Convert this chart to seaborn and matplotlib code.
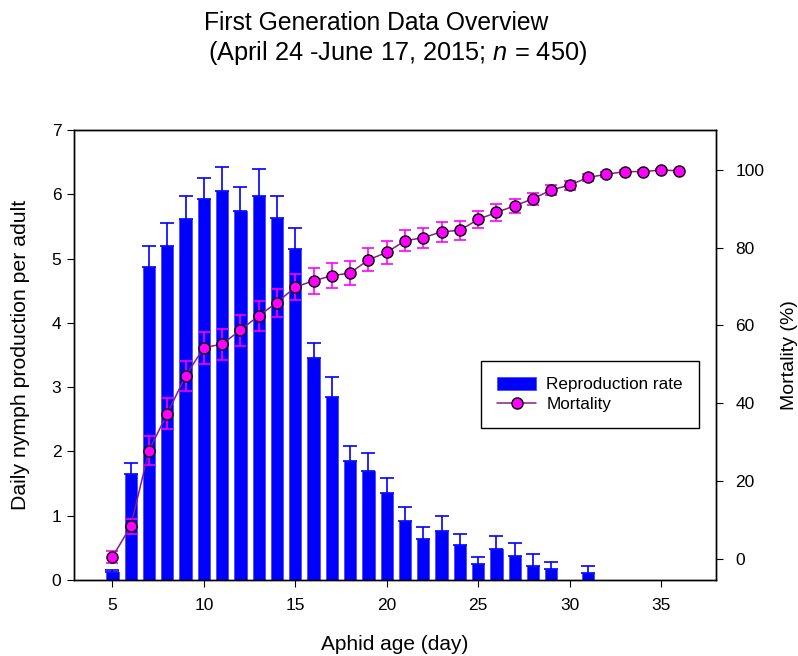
import matplotlib
matplotlib.use("Agg")
import matplotlib.pyplot as plt
import seaborn as sns
import pandas as pd
import numpy as np
from matplotlib.patches import Patch
from matplotlib.lines import Line2D

# ---------------- data ----------------
days = list(range(5, 37))
repro = [0.12, 1.65, 4.87, 5.19, 5.61, 5.93, 6.05, 5.74, 5.98, 5.63, 5.15,
         3.46, 2.85, 1.85, 1.70, 1.36, 0.92, 0.64, 0.76, 0.54, 0.25, 0.48,
         0.37, 0.22, 0.17, 0.0, 0.11, 0.0, 0.0, 0.0, 0.0, 0.0]
repro_se = [0.04, 0.17, 0.32, 0.37, 0.37, 0.33, 0.38, 0.38, 0.42, 0.35, 0.32,
            0.23, 0.31, 0.24, 0.27, 0.23, 0.21, 0.19, 0.24, 0.17, 0.10, 0.21,
            0.20, 0.19, 0.11, 0.0, 0.11, 0.0, 0.0, 0.0, 0.0, 0.0]
mortality = [0.4, 8.3, 27.8, 37.3, 47.0, 54.3, 55.2, 58.8, 62.5, 65.9, 69.9,
             71.5, 72.8, 73.5, 76.9, 78.8, 81.8, 82.6, 84.1, 84.5, 87.3, 89.1,
             90.8, 92.6, 94.9, 96.1, 98.1, 98.9, 99.6, 99.6, 100.0, 99.8]
mortality_se = [1.6, 1.9, 3.8, 4.0, 3.9, 4.1, 4.0, 4.0, 3.8, 3.6, 3.4,
                3.3, 3.2, 3.1, 3.0, 3.0, 2.7, 2.6, 2.6, 2.5, 2.2, 2.1,
                1.8, 1.6, 1.2, 1.2, 0.8, 0.6, 0.5, 0.4, 0.3, 0.3]
x_ticks = [5, 10, 15, 20, 25, 30, 35]
left_ticks = [0, 1, 2, 3, 4, 5, 6, 7]
right_ticks = [0, 20, 40, 60, 80, 100]

df = pd.DataFrame({"day": days, "repro": repro, "repro_se": repro_se,
                   "mort": mortality, "mort_se": mortality_se})

# ---------------- style ----------------
sns.set_theme(style="white")
plt.rcParams["font.family"] = ["Liberation Sans", "DejaVu Sans"]
plt.rcParams["mathtext.fontset"] = "custom"
plt.rcParams["mathtext.rm"] = "Liberation Sans"
plt.rcParams["mathtext.it"] = "Liberation Sans:italic"
for k in ["text.color", "axes.labelcolor", "xtick.color", "ytick.color",
          "axes.edgecolor"]:
    plt.rcParams[k] = "black"

BLUE = "#0000ff"
MAG = "#ff00ff"
PURPLE = "#8b1a8b"

fig = plt.figure(figsize=(7.98, 6.56), dpi=100)
ax = fig.add_axes([0.0927, 0.1159, 0.8045, 0.6859])

# bars
sns.barplot(data=df, x="day", y="repro", native_scale=True, width=0.67,
            color=BLUE, saturation=1, errorbar=None, ax=ax,
            edgecolor="#4a4aff", linewidth=0.6, zorder=2)
pos = df[df["repro"] > 0]
ax.errorbar(pos["day"], pos["repro"],
            yerr=[np.zeros(len(pos)), pos["repro_se"]],
            fmt="none", ecolor=BLUE, elinewidth=1.2, capsize=5, capthick=1.2,
            zorder=3)

ax.set_xlim(2.9, 38.0)
ax.set_ylim(0, 7)
ax.set_xticks(x_ticks)
ax.set_yticks(left_ticks)
ax.set_xlabel("Aphid age (day)", fontsize=15, labelpad=16)
ax.set_ylabel("Daily nymph production per adult", fontsize=15.3)
ax.yaxis.set_label_coords(-0.068, 0.5)
ax.tick_params(axis="both", which="both", direction="out", length=5,
               width=0.8, color="black", labelsize=12.5, labelcolor="black")
ax.tick_params(axis="x", pad=8, bottom=True)
ax.tick_params(axis="y", pad=4, left=True)
for s in ax.spines.values():
    s.set_color("black")
    s.set_linewidth(1.0)

# mortality on twin axis
ax2 = ax.twinx()
ax2.errorbar(df["day"], df["mort"], yerr=df["mort_se"], fmt="none",
             ecolor=MAG, elinewidth=1.2, capsize=4.5, capthick=1.2, zorder=2)
sns.lineplot(data=df, x="day", y="mort", ax=ax2, color=PURPLE, linewidth=1.1,
             marker="o", markersize=8, markerfacecolor=MAG,
             markeredgecolor="black", markeredgewidth=1.0, zorder=3)
ax2.set_ylim(-5.5, 110.3)
ax2.set_yticks(right_ticks)
ax2.set_ylabel("Mortality (%)", fontsize=14, labelpad=12)
ax2.tick_params(axis="y", direction="out", length=5, width=0.8,
                color="black", labelsize=12.5, labelcolor="black", pad=9,
                right=True)
for s in ax2.spines.values():
    s.set_color("black")
    s.set_linewidth(1.0)

handles = [Patch(facecolor=BLUE, edgecolor="#4a4aff", linewidth=0.6),
           Line2D([0], [0], color=PURPLE, linewidth=1.1, marker="o",
                  markersize=8, markerfacecolor=MAG, markeredgecolor="black")]
leg = ax2.legend(handles, ["Reproduction rate", "Mortality"],
                 loc="upper right", bbox_to_anchor=(0.974, 0.487),
                 fontsize=12.3, frameon=True, fancybox=False, framealpha=1,
                 edgecolor="black", borderpad=0.95, labelspacing=0.25,
                 handlelength=2.3, handleheight=0.75, handletextpad=0.6,
                 borderaxespad=0)
leg.get_frame().set_linewidth(1.0)

fig.text(376.5 / 798, 1 - 30 / 656, "First Generation Data Overview",
         ha="center", va="baseline", fontsize=17.7)
fig.text(398 / 798, 1 - 60 / 656,
         r"(April 24 -June 17, 2015; $\it{n}$ = 450)",
         ha="center", va="baseline", fontsize=18.3)

fig.savefig("out.png", dpi=100)
